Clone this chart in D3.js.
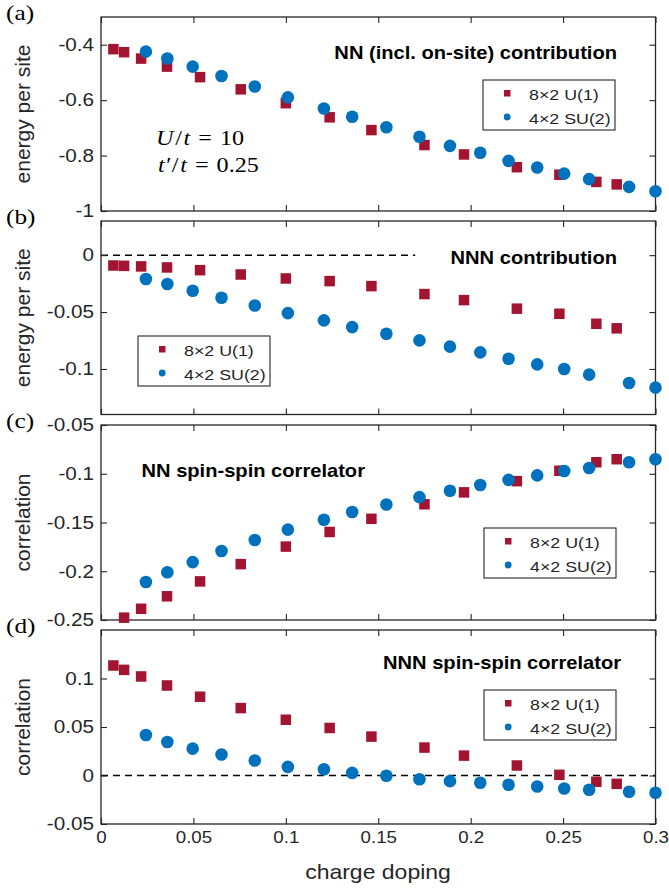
<!DOCTYPE html>
<html>
<head>
<meta charset="utf-8">
<script src="https://cdn.jsdelivr.net/npm/d3@7"></script>
<style>
body { margin: 0; background: #fff; }
</style>
</head>
<body>
<div id="chart"></div>
<script>
// charge doping of each run
var xU1 = [0.0067, 0.0125, 0.0217, 0.0357, 0.0536, 0.0756, 0.1, 0.1237, 0.1463, 0.175, 0.1964, 0.225, 0.248, 0.268, 0.279]
var xSU2 = [0.0243, 0.0359, 0.0496, 0.0652, 0.0832, 0.1011, 0.1206, 0.1359, 0.1544, 0.1723, 0.1888, 0.2052, 0.2205, 0.236, 0.2506, 0.2641, 0.2857, 0.3]

// (a) NN (incl. on-site) energy per site
var nnU1 = [-0.416, -0.427, -0.45, -0.479, -0.517, -0.561, -0.611, -0.662, -0.708, -0.762, -0.796, -0.842, -0.869, -0.895, -0.904]
var nnSU2 = [-0.425, -0.45, -0.479, -0.513, -0.551, -0.59, -0.63, -0.66, -0.698, -0.732, -0.765, -0.79, -0.819, -0.843, -0.865, -0.885, -0.913, -0.929]

// (b) NNN energy per site
var nnnU1 = [-0.0091, -0.0094, -0.0099, -0.0108, -0.0132, -0.017, -0.0205, -0.0228, -0.0272, -0.0342, -0.0395, -0.047, -0.0515, -0.0603, -0.0643]
var nnnSU2 = [-0.021, -0.0254, -0.0313, -0.0374, -0.0442, -0.0509, -0.0573, -0.0632, -0.069, -0.0749, -0.0804, -0.0854, -0.091, -0.096, -0.1, -0.105, -0.1123, -0.1164]

// (c) NN spin-spin correlator (first U(1) point lies below the axis)
var corrNNU1 = [null, -0.2476, -0.2385, -0.2257, -0.2104, -0.1927, -0.1747, -0.1597, -0.1462, -0.1313, -0.1191, -0.1076, -0.0969, -0.0882, -0.0851]
var corrNNSU2 = [-0.2111, -0.201, -0.1906, -0.1792, -0.168, -0.1573, -0.1472, -0.1392, -0.1316, -0.124, -0.1174, -0.1115, -0.1063, -0.1017, -0.0972, -0.0941, -0.0882, -0.0851]

// (d) NNN spin-spin correlator
var corrNNNU1 = [0.1134, 0.1089, 0.1021, 0.0928, 0.0812, 0.0695, 0.0575, 0.049, 0.0401, 0.0288, 0.0205, 0.0103, 0.0007, -0.0065, -0.0086]
var corrNNNSU2 = [0.0418, 0.0346, 0.0277, 0.0216, 0.0154, 0.0089, 0.0065, 0.0027, -0.0003, -0.0038, -0.0058, -0.0075, -0.0096, -0.0113, -0.0134, -0.0147, -0.0168, -0.0178]

var xTicks = [0, 0.05, 0.1, 0.15, 0.2, 0.25, 0.3]
var seriesNames = ['8\u00d72 U(1)', '4\u00d72 SU(2)']

var red = '#a2142f', blue = '#0072bd', ink = '#262626'
var SANS = '"Liberation Sans", Arial, Helvetica, sans-serif'
var SERIF = '"Liberation Serif", "Times New Roman", serif'
var SX = 1.15  // glyphs in the figure are a bit wider than Liberation Sans

var panels = [
    { tag: '(a)', top: 17, bottom: 211, ydom: [-1, -0.3], yticks: [-1, -0.8, -0.6, -0.4], ylabel: 'energy per site',
      u1: nnU1, su2: nnSU2, title: 'NN (incl. on-site) contribution', tx: 617, ty: 59, anchor: 'end', lx: 483, ly: 80 },
    { tag: '(b)', top: 221, bottom: 414.5, ydom: [-0.14, 0.03], yticks: [-0.1, -0.05, 0], ylabel: 'energy per site',
      u1: nnnU1, su2: nnnSU2, title: 'NNN contribution', tx: 617, ty: 264, anchor: 'end', lx: 138, ly: 336, zeroTo: 0.17 },
    { tag: '(c)', top: 425, bottom: 620, ydom: [-0.25, -0.05], yticks: [-0.25, -0.2, -0.15, -0.1, -0.05], ylabel: 'correlation',
      u1: corrNNU1, su2: corrNNSU2, title: 'NN spin-spin correlator', tx: 141.5, ty: 477, anchor: 'start', lx: 484, ly: 528 },
    { tag: '(d)', top: 630, bottom: 824, ydom: [-0.05, 0.15], yticks: [-0.05, 0, 0.05, 0.1], ylabel: 'correlation',
      u1: corrNNNU1, su2: corrNNNSU2, title: 'NNN spin-spin correlator', tx: 621, ty: 669, anchor: 'end', lx: 484, ly: 690, zeroTo: 0.3 }
]

var svg = d3.select('#chart').append('svg')
    .attr('width', 669)
    .attr('height', 888)
    .style('font-family', SANS)

var x = d3.scaleLinear().domain([0, 0.3]).range([101, 655.5])

function fmt(d) { return String(d) }

function put(sel, px, py, str, size, anchor, sx) {
    return sel.append('text')
        .attr('transform', 'translate(' + px + ',' + py + ') scale(' + (sx || SX) + ',1)')
        .attr('text-anchor', anchor || 'start')
        .attr('font-size', size)
        .attr('fill', ink)
        .text(str)
}

function styleAxis(g) {
    g.attr('font-family', null).attr('font-size', null)
    g.select('.domain').remove()
    g.selectAll('line').attr('stroke', ink).attr('stroke-width', 1.1)
}

// little LaTeX-like formula: parts are [text, italic, dx]
function formula(sel, px, py, parts) {
    var t = put(sel, px, py, '', 21, 'start').style('font-family', SERIF).attr('fill', '#000')
    parts.forEach(function (s) {
        t.append('tspan')
            .attr('font-style', s[1] ? 'italic' : 'normal')
            .attr('dx', s[2] || 0)
            .text(s[0])
    })
    return t
}

panels.forEach(function (p, i) {
    var y = d3.scaleLinear().domain(p.ydom).range([p.bottom, p.top])
    var g = svg.append('g')
    var last = i == panels.length - 1

    // dashed zero line
    if (p.zeroTo != null) {
        g.append('line')
            .attr('x1', x(0)).attr('x2', x(p.zeroTo))
            .attr('y1', y(0)).attr('y2', y(0))
            .attr('stroke', '#000')
            .attr('stroke-width', 1.5)
            .attr('stroke-dasharray', '7,5')
    }

    var left = g.append('g').attr('transform', 'translate(' + x(0) + ',0)')
        .call(d3.axisLeft(y).tickValues(p.yticks).tickSize(-6).tickPadding(7).tickFormat(fmt))
    styleAxis(left)
    left.selectAll('text')
        .attr('font-size', 18)
        .attr('fill', ink)
        .attr('x', -7 / SX)
        .attr('transform', 'scale(' + SX + ',1)')

    var right = g.append('g').attr('transform', 'translate(' + x(0.3) + ',0)')
        .call(d3.axisRight(y).tickValues(p.yticks).tickSize(-6).tickFormat(''))
    styleAxis(right)

    var topAx = g.append('g').attr('transform', 'translate(0,' + p.top + ')')
        .call(d3.axisTop(x).tickValues(xTicks).tickSize(-6).tickFormat(''))
    styleAxis(topAx)

    var bottom = g.append('g').attr('transform', 'translate(0,' + p.bottom + ')')
        .call(d3.axisBottom(x).tickValues(xTicks).tickSize(-6).tickPadding(7).tickFormat(last ? fmt : ''))
    styleAxis(bottom)
    bottom.selectAll('text')
        .attr('font-size', 17)
        .attr('fill', ink)
        .attr('transform', 'scale(1.1,1)')

    g.append('rect')
        .attr('x', x(0)).attr('y', p.top)
        .attr('width', x(0.3) - x(0)).attr('height', p.bottom - p.top)
        .attr('fill', 'none')
        .attr('stroke', ink)
        .attr('stroke-width', 1.3)

    // y label
    g.append('text')
        .attr('transform', 'translate(30,' + (p.top + p.bottom) / 2 + ') rotate(-90)')
        .attr('text-anchor', 'middle')
        .attr('font-size', 21)
        .attr('fill', ink)
        .text(p.ylabel)

    // panel tag in serif
    put(g, 6, p.top + 2.5, p.tag, 22, 'start', 1.15)
        .style('font-family', SERIF)
        .attr('fill', '#000')

    put(g, p.tx, p.ty, p.title, 17.5, p.anchor).attr('font-weight', 'bold').attr('fill', '#000')

    // legend
    var lg = g.append('g').attr('transform', 'translate(' + p.lx + ',' + p.ly + ')')
    lg.append('rect').attr('width', 132).attr('height', 50)
        .attr('fill', '#fff').attr('stroke', ink).attr('stroke-width', 1.1)
    lg.append('rect').attr('x', 21).attr('y', 10).attr('width', 6.5).attr('height', 6.5).attr('fill', red)
    lg.append('circle').attr('cx', 24.2).attr('cy', 37).attr('r', 3.4).attr('fill', blue)
    put(lg, 46, 19.5, seriesNames[0], 15.5, 'start')
    put(lg, 46, 43.5, seriesNames[1], 15.5, 'start')

    // markers
    var sq = 10.5
    g.selectAll('.u1')
        .data(xU1.map(function (d, k) { return [d, p.u1[k]] }).filter(function (d) { return d[1] != null }))
        .enter()
        .append('rect')
        .attr('x', function (d) { return x(d[0]) - sq / 2 })
        .attr('y', function (d) { return y(d[1]) - sq / 2 })
        .attr('width', sq)
        .attr('height', sq)
        .attr('fill', red)

    g.selectAll('.su2')
        .data(xSU2.map(function (d, k) { return [d, p.su2[k]] }))
        .enter()
        .append('circle')
        .attr('cx', function (d) { return x(d[0]) })
        .attr('cy', function (d) { return y(d[1]) })
        .attr('r', 6.3)
        .attr('fill', blue)

    if (i == 0) {
        formula(g, 156, 145, [['U', true], ['/', false, 1.5], ['t', true, 1.5], ['=', false, 7], ['10', false, 7]])
        formula(g, 158, 172, [['t\u2032', true], ['/', false, 1.5], ['t', true, 1.5], ['=', false, 7], ['0.25', false, 7]])
    }
})

put(svg, 378, 879, 'charge doping', 20, 'middle')
</script>
</body>
</html>
